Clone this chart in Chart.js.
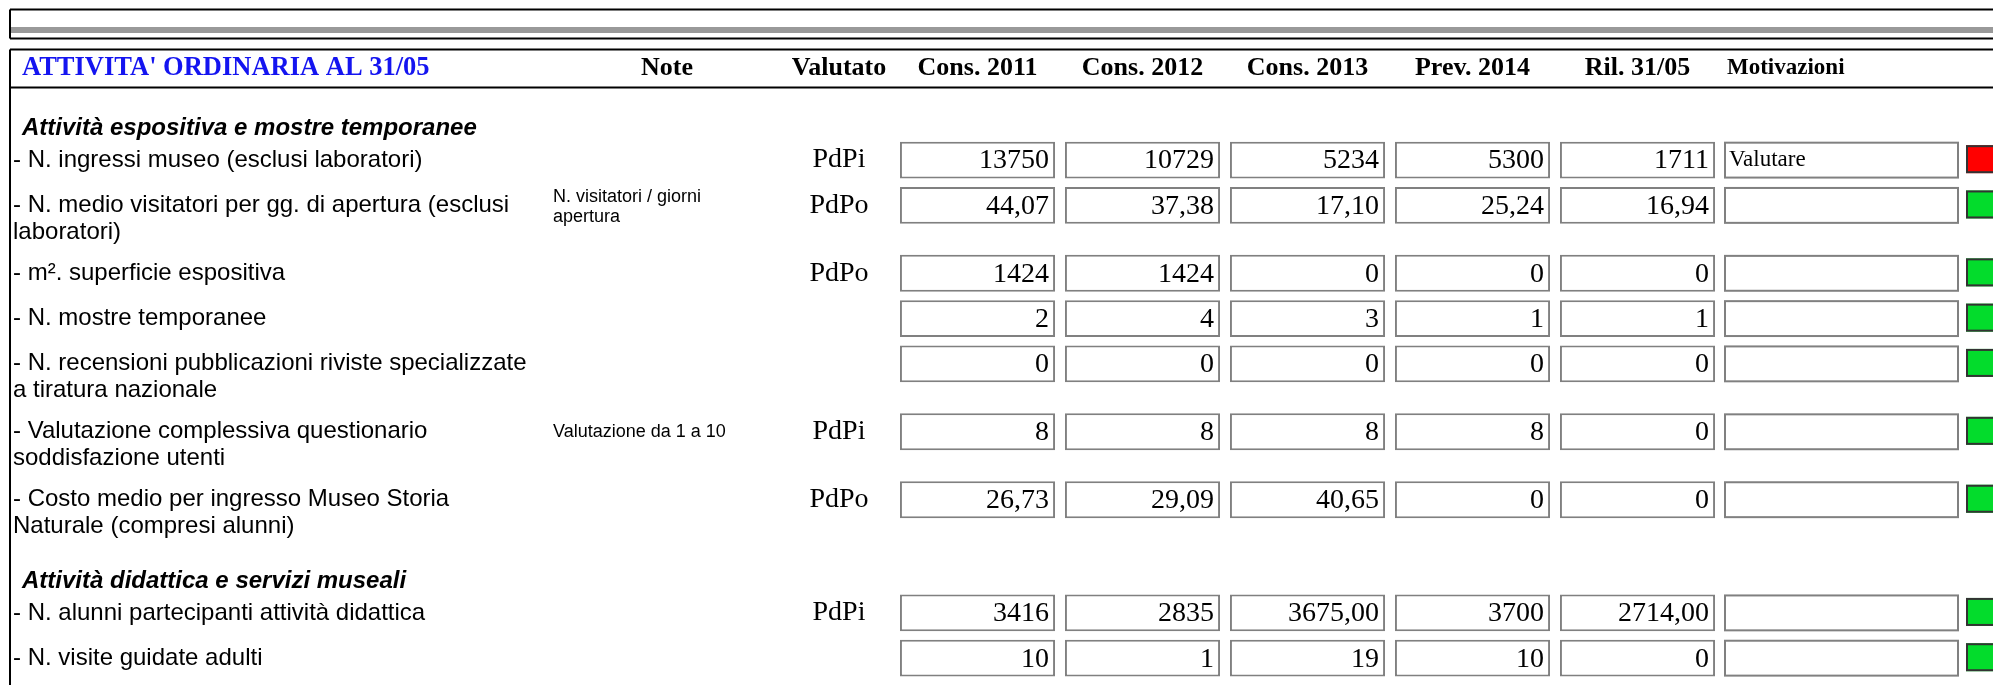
<!DOCTYPE html>
<html>
<head>
<meta charset="utf-8">
<script src="https://cdn.jsdelivr.net/npm/chart.js@4.4.1/dist/chart.umd.min.js"></script>
<style>
    html, body { margin: 0; padding: 0; background: #fff; }
    #wrap { width: 1993px; height: 685px; position: relative; }
</style>
</head>
<body>
<div id="wrap"><canvas id="tabella"></canvas></div>
<script>
// Dati della scheda
var titolo = "ATTIVITA' ORDINARIA AL 31/05";
var colonne = ['Cons. 2011', 'Cons. 2012', 'Cons. 2013', 'Prev. 2014', 'Ril. 31/05'];
var sezioni = ['Attività espositiva e mostre temporanee', 'Attività didattica e servizi museali'];

var righe = [
    ['- N. ingressi museo (esclusi laboratori)'],
    ['- N. medio visitatori per gg. di apertura (esclusi', 'laboratori)'],
    ['- m². superficie espositiva'],
    ['- N. mostre temporanee'],
    ['- N. recensioni pubblicazioni riviste specializzate', 'a tiratura nazionale'],
    ['- Valutazione complessiva questionario', 'soddisfazione utenti'],
    ['- Costo medio per ingresso Museo Storia', 'Naturale (compresi alunni)'],
    ['- N. alunni partecipanti attività didattica'],
    ['- N. visite guidate adulti']
];
var sezioneRiga = [0, 0, 0, 0, 0, 0, 0, 1, 1];
var note = [[], ['N. visitatori / giorni', 'apertura'], [], [], [], ['Valutazione da 1 a 10'], [], [], []];
var valutato = ['PdPi', 'PdPo', 'PdPo', '', '', 'PdPi', 'PdPo', 'PdPi', ''];

var cons2011 = ['13750', '44,07', '1424', '2', '0', '8', '26,73', '3416', '10'];
var cons2012 = ['10729', '37,38', '1424', '4', '0', '8', '29,09', '2835', '1'];
var cons2013 = ['5234', '17,10', '0', '3', '0', '8', '40,65', '3675,00', '19'];
var prev2014 = ['5300', '25,24', '0', '1', '0', '8', '0', '3700', '10'];
var ril3105 = ['1711', '16,94', '0', '1', '0', '0', '0', '2714,00', '0'];
var motivazioni = ['Valutare', '', '', '', '', '', '', '', ''];
var stato = ['rosso', 'verde', 'verde', 'verde', 'verde', 'verde', 'verde', 'verde', 'verde'];

var valori = [cons2011, cons2012, cons2013, prev2014, ril3105];
var coloriStato = { rosso: '#ff0000', verde: '#03dc2c' };

// Posizione verticale delle righe (in unità di riga)
var ALTEZZA_BOX = 0.815;
var rigaTop = [];
var sezioneTop = [];
var cursore = -1;
var sezPrec = -1;
sezioneRiga.forEach(function(s, i) {
    if (s !== sezPrec) {
        sezioneTop.push(cursore);
        cursore += 1;
        sezPrec = s;
    }
    rigaTop.push(cursore);
    cursore += 1 + 0.5 * (righe[i].length - 1);
});

var SERIF = "'Liberation Serif', 'Times New Roman', serif";
var SANS = "'Liberation Sans', Arial, sans-serif";

function testo(ctx, t, x, y, font, colore, allinea) {
    ctx.font = font;
    ctx.fillStyle = colore || '#000';
    ctx.textAlign = allinea || 'left';
    ctx.textBaseline = 'middle';
    ctx.fillText(t, x, y);
}

function linea(ctx, x1, y1, x2, y2) {
    ctx.beginPath();
    ctx.moveTo(x1, y1);
    ctx.lineTo(x2, y2);
    ctx.stroke();
}

var tabellaPlugin = {
    id: 'tabella',
    beforeDraw: function(chart) {
        var ctx = chart.ctx;
        var W = chart.width, H = chart.height;
        ctx.save();
        ctx.fillStyle = '#fff';
        ctx.fillRect(0, 0, W, H);

        // cornice superiore con barra grigia
        ctx.strokeStyle = '#000';
        ctx.lineWidth = 2;
        linea(ctx, 10, 9.5, W, 9.5);
        linea(ctx, 10, 9.5, 10, 38.5);
        linea(ctx, 10, 38.5, W, 38.5);
        ctx.fillStyle = '#999';
        ctx.fillRect(11, 27, W, 6);

        // cornice della tabella
        ctx.strokeStyle = '#000';
        linea(ctx, 10, 49.5, W, 49.5);
        linea(ctx, 10, 49.5, 10, H);
        linea(ctx, 10, 87.5, W, 87.5);
        ctx.restore();
    },
    afterDatasetsDraw: function(chart) {
        var ctx = chart.ctx;
        var x = chart.scales.x, y = chart.scales.y;
        var area = chart.chartArea;
        var yHead = 68;
        ctx.save();

        // intestazione
        testo(ctx, titolo, 22, yHead, 'bold 26.5px ' + SERIF, '#1414f0');
        testo(ctx, 'Note', 667, yHead, 'bold 26px ' + SERIF, '#000', 'center');
        testo(ctx, 'Valutato', 839, yHead, 'bold 26px ' + SERIF, '#000', 'center');
        colonne.forEach(function(c, j) {
            testo(ctx, c, x.getPixelForValue(j), yHead, 'bold 26px ' + SERIF, '#000', 'center');
        });
        testo(ctx, 'Motivazioni', area.right + 7, yHead, 'bold 23px ' + SERIF, '#000');

        // titoli di sezione
        sezioni.forEach(function(s, k) {
            testo(ctx, s, 22, y.getPixelForValue(sezioneTop[k] + 0.71), 'italic bold 24px ' + SANS);
        });

        righe.forEach(function(lab, i) {
            var meta = chart.getDatasetMeta(i);
            var b0 = meta.data[0].getProps(['y', 'base'], true);
            var top = Math.min(b0.y, b0.base), bot = Math.max(b0.y, b0.base);
            var yc = (top + bot) / 2;

            // etichetta
            lab.forEach(function(l, n) {
                testo(ctx, l, 13, yc + n * 27, '24px ' + SANS);
            });
            // note
            var nt = note[i];
            nt.forEach(function(l, n) {
                var off = nt.length > 1 ? -8 : 0;
                testo(ctx, l, 553, yc + off + n * 20, '18px ' + SANS);
            });
            // valutato
            if (valutato[i]) testo(ctx, valutato[i], 839, yc, '28px ' + SERIF, '#000', 'center');

            // valori nelle caselle
            meta.data.forEach(function(bar, j) {
                var p = bar.getProps(['x', 'width'], true);
                testo(ctx, valori[j][i], p.x + p.width / 2 - 6, yc + 1, '28px ' + SERIF, '#000', 'right');
            });

            // casella motivazioni
            ctx.strokeStyle = '#808080';
            ctx.lineWidth = 2;
            ctx.strokeRect(area.right + 5, top + 1, 233, bot - top - 2);
            if (motivazioni[i]) testo(ctx, motivazioni[i], area.right + 9, yc, '23px ' + SERIF);

            // semaforo
            ctx.fillStyle = coloriStato[stato[i]];
            ctx.fillRect(area.right + 246, top + 3.5, 40, 28);
            ctx.strokeStyle = '#333';
            ctx.strokeRect(area.right + 247, top + 4.5, 40, 26);
        });
        ctx.restore();
    }
};

var datasets = righe.map(function(lab, i) {
    return {
        label: lab.join(' '),
        data: colonne.map(function() { return [rigaTop[i], rigaTop[i] + ALTEZZA_BOX]; }),
        backgroundColor: '#fff',
        borderColor: '#808080',
        borderWidth: 2,
        borderSkipped: false,
        grouped: false,
        barPercentage: 0.94,
        categoryPercentage: 1
    };
});

var ctx = document.getElementById('tabella').getContext('2d');
var tabella = new Chart(ctx, {
    type: 'bar',
    data: {
        labels: colonne,
        datasets: datasets
    },
    options: {
        responsive: true,
        maintainAspectRatio: false,
        animation: false,
        events: [],
        layout: {
            padding: { top: 96.4, bottom: 0, left: 895, right: 273 }
        },
        plugins: {
            legend: { display: false },
            tooltip: { enabled: false }
        },
        scales: {
            x: { type: 'category', display: false },
            y: { type: 'linear', min: -1, max: 12, reverse: true, display: false }
        }
    },
    plugins: [tabellaPlugin]
});
</script>
</body>
</html>
